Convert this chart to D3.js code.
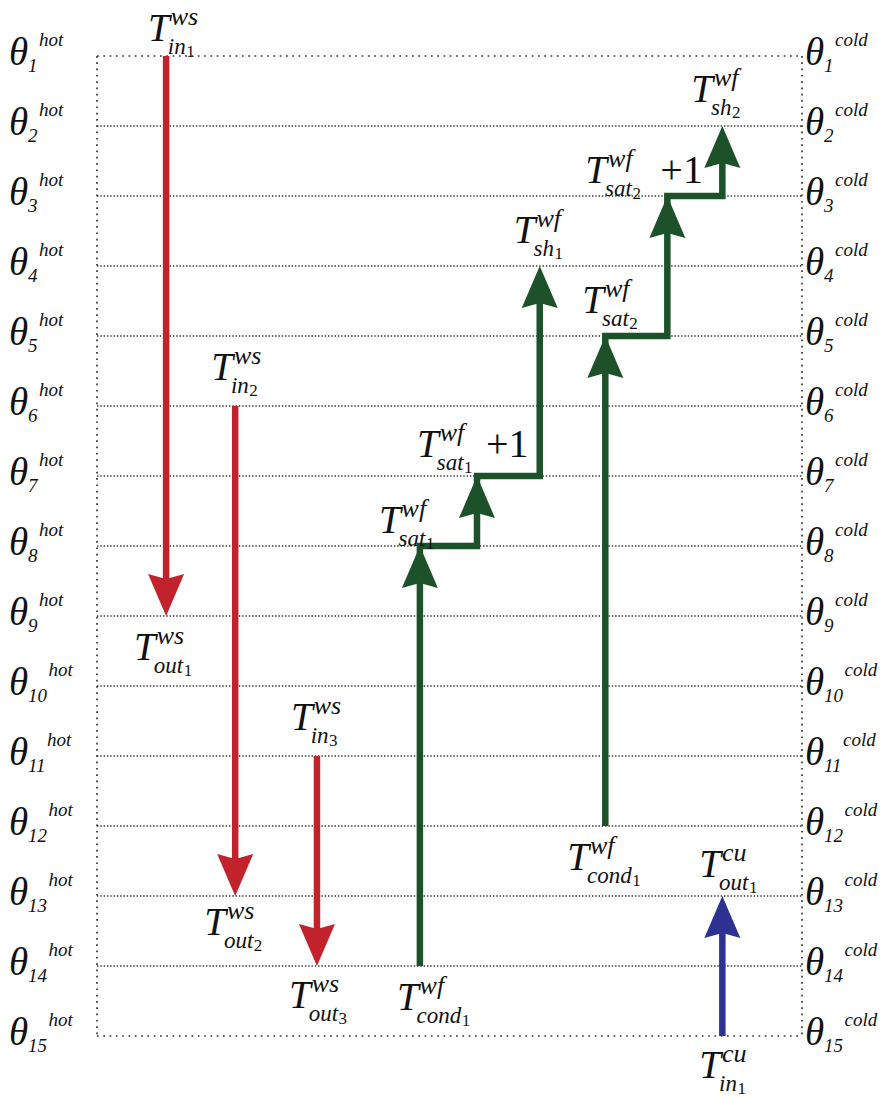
<!DOCTYPE html>
<html><head><meta charset="utf-8">
<script src="https://cdn.jsdelivr.net/npm/d3@7"></script>
<style>body{margin:0;background:#fff}svg{display:block}</style>
</head><body><svg id="c" width="882" height="1097"></svg>
<script>
// ---- data ----
const levels = [1,2,3,4,5,6,7,8,9,10,11,12,13,14,15];
const hotSide = "hot";
const coldSide = "cold";
// hot (waste stream) arrows: column position along the box, start level, end level
const hotStreams = [
  {id:"ws1", steps:[{col:9.8, from:1, to:9}]},
  {id:"ws2", steps:[{col:19.6, from:6, to:13}]},
  {id:"ws3", steps:[{col:31.2, from:11, to:14}]}
];
// working fluid streams (stepped)
const wfStreams = [
  {id:"wf1", steps:[{col:45.8, from:14, to:8},{col:53.9, from:8, to:7},{col:62.8, from:7, to:4}]},
  {id:"wf2", steps:[{col:72.1, from:12, to:5},{col:80.9, from:5, to:3},{col:88.7, from:3, to:2}]}
];
// cold utility
const cuStreams = [
  {id:"cu1", steps:[{col:88.7, from:15, to:13}]}
];
// stream labels: anchor column/level, superscript, subscript, index, extra
const streamLabels = [
  {col:9.8,  lev:1,  sup:"ws", sub:"in",   idx:"1"},
  {col:9.8,  lev:9,  sup:"ws", sub:"out",  idx:"1"},
  {col:19.6, lev:6,  sup:"ws", sub:"in",   idx:"2"},
  {col:19.6, lev:13, sup:"ws", sub:"out",  idx:"2"},
  {col:31.2, lev:11, sup:"ws", sub:"in",   idx:"3"},
  {col:31.2, lev:14, sup:"ws", sub:"out",  idx:"3"},
  {col:45.8, lev:14, sup:"wf", sub:"cond", idx:"1"},
  {col:45.8, lev:8,  sup:"wf", sub:"sat",  idx:"1"},
  {col:53.9, lev:7,  sup:"wf", sub:"sat",  idx:"1", extra:"+1"},
  {col:62.8, lev:4,  sup:"wf", sub:"sh",   idx:"1"},
  {col:72.1, lev:12, sup:"wf", sub:"cond", idx:"1"},
  {col:72.1, lev:5,  sup:"wf", sub:"sat",  idx:"2"},
  {col:80.9, lev:3,  sup:"wf", sub:"sat",  idx:"2", extra:"+1"},
  {col:88.7, lev:2,  sup:"wf", sub:"sh",   idx:"2"},
  {col:88.7, lev:13, sup:"cu", sub:"out",  idx:"1"},
  {col:88.7, lev:15, sup:"cu", sub:"in",   idx:"1"}
];

// ---- layout (label offsets from their anchors, in px) ----
const labelOffsets = [
  [-18,-15],[-32,44],[-24,-26],[-31,39],[-26,-26],[-28,42],
  [-23,44],[-41,-13],[-60,-19],[-26,-23],[-38,44],[-23,-23],
  [-82,-13],[-31,-24],[-23,-19],[-23,42]
];
const extraOffsets = {8:69, 12:75};
const FONT = "'Liberation Serif', 'Times New Roman', Times, serif";

const svg = d3.select("#c");
const x = d3.scaleLinear().domain([0,100]).range([97,802]);
const y = d3.scaleLinear().domain([1,15]).range([56,1036]);

const RED = "#C1222B", GREEN = "#1D5129", BLUE = "#2C3192";

// grid lines (inner levels)
svg.append("g").selectAll("line").data(levels.slice(1,-1)).join("line")
  .attr("x1", x(0)).attr("x2", x(100))
  .attr("y1", d=>y(d)).attr("y2", d=>y(d))
  .attr("stroke","#333").attr("stroke-width",1.4).attr("stroke-dasharray","1.4 1.9");
// border
const border = [
  [x(0),y(1),x(100),y(1)],[x(0),y(15),x(100),y(15)],
  [x(0),y(1),x(0),y(15)],[x(100),y(1),x(100),y(15)]
];
svg.append("g").selectAll("line").data(border).join("line")
  .attr("x1",d=>d[0]).attr("y1",d=>d[1]).attr("x2",d=>d[2]).attr("y2",d=>d[3])
  .attr("stroke","#333").attr("stroke-width",1.7).attr("stroke-dasharray","1.7 4.6");

function txt(g, xx, yy, size, str, italic){
  return g.append("text").attr("x",xx).attr("y",yy)
    .attr("font-family",FONT).attr("font-size",size)
    .attr("font-style", italic===false ? "normal" : "italic")
    .attr("fill","#111").text(str);
}

// level labels
function levelLabel(g, x0, yy, i, side){
  txt(g, x0, yy+9, 39, "θ");
  const s = txt(g, x0+19, yy+16, 19, String(i));
  const w = s.node().getComputedTextLength();
  txt(g, x0+19+w+1.5, yy-10, 19, side);
}
const gl = svg.append("g");
levels.forEach(i=>levelLabel(gl, 9, y(i), i, hotSide));
levels.forEach(i=>levelLabel(gl, 805, y(i), i, coldSide));

// streams
const AL = 42, AW = 18, NOTCH = 5, LW = 6.5;
function drawStream(g, s, color){
  const pts = [];
  s.steps.forEach(st=>{
    pts.push([x(st.col), y(st.from)]);
    pts.push([x(st.col), y(st.to)]);
  });
  const last = s.steps[s.steps.length-1];
  const dir = last.to > last.from ? 1 : -1; // +1 = downward
  const lp = pts[pts.length-1];
  pts[pts.length-1] = [lp[0], lp[1] - dir*(AL-NOTCH-2)];
  g.append("path").attr("d", d3.line()(pts)).attr("fill","none")
    .attr("stroke",color).attr("stroke-width",LW).attr("stroke-linejoin","miter").attr("stroke-linecap","butt");
  s.steps.forEach(st=>{
    const d = st.to > st.from ? 1 : -1;
    const tx = x(st.col), ty = y(st.to);
    const p = [[tx,ty],[tx+AW, ty-d*AL],[tx, ty-d*(AL-NOTCH)],[tx-AW, ty-d*AL]];
    g.append("path").attr("d","M"+p.map(q=>q.join(",")).join("L")+"Z").attr("fill",color);
  });
}
const gs = svg.append("g");
hotStreams.forEach(s=>drawStream(gs,s,RED));
wfStreams.forEach(s=>drawStream(gs,s,GREEN));
cuStreams.forEach(s=>drawStream(gs,s,BLUE));

// stream labels
const gt = svg.append("g");
streamLabels.forEach((d,i)=>{
  const X = x(d.col)+labelOffsets[i][0], B = y(d.lev)+labelOffsets[i][1];
  const t = txt(gt, X, B, 39, "T");
  const tw = t.node().getComputedTextLength();
  txt(gt, X+tw+1, B-16, 26, d.sup);
  const s = txt(gt, X+tw-2, B+13, 23, d.sub);
  const w = s.node().getComputedTextLength();
  txt(gt, X+tw-2+w+0.5, B+16, 17, d.idx, false);
  if(d.extra){
    txt(gt, X+extraOffsets[i], B, 40, d.extra, false);
  }
});
</script></body></html>
